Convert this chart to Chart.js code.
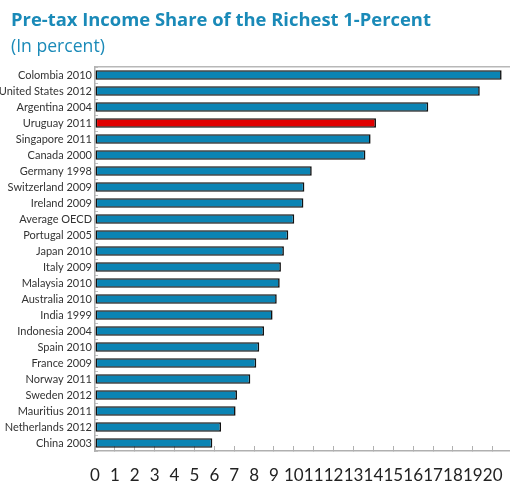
<!DOCTYPE html>
<html>
<head>
<meta charset="utf-8">
<script src="https://cdn.jsdelivr.net/npm/chart.js@4"></script>
<style>
  html, body { margin: 0; padding: 0; background: #fff; }
  #wrap { position: relative; width: 510px; height: 483px; overflow: hidden; }
  #title { position: absolute; left: 11px; top: 6px; font: bold 18.4px "Open Sans", sans-serif; color: #1a8ab8; white-space: nowrap; }
  #subtitle { position: absolute; left: 11px; top: 33px; font: 17.6px "Open Sans", sans-serif; color: #1a8ab8; }
  canvas { position: absolute; left: 0; top: 0; }
</style>
</head>
<body>
<div id="wrap">
  <canvas id="incomeChart" width="510" height="483"></canvas>
  <div id="title">Pre-tax Income Share of the Richest 1-Percent</div>
  <div id="subtitle">(In percent)</div>
</div>
<script>
  const countries = [
    "Colombia 2010", "United States 2012", "Argentina 2004", "Uruguay 2011",
    "Singapore 2011", "Canada 2000", "Germany 1998", "Switzerland 2009",
    "Ireland 2009", "Average OECD", "Portugal 2005", "Japan 2010",
    "Italy 2009", "Malaysia 2010", "Australia 2010", "India 1999",
    "Indonesia 2004", "Spain 2010", "France 2009", "Norway 2011",
    "Sweden 2012", "Mauritius 2011", "Netherlands 2012", "China 2003"
  ];
  const topShare = [
    20.45, 19.35, 16.76, 14.13,
    13.86, 13.6, 10.9, 10.53,
    10.48, 10.02, 9.72, 9.5,
    9.35, 9.29, 9.14, 8.93,
    8.5, 8.26, 8.11, 7.81,
    7.14, 7.07, 6.34, 5.9
  ];
  const xTicks = [0, 1, 2, 3, 4, 5, 6, 7, 8, 9, 10, 11, 12, 13, 14, 15, 16, 17, 18, 19, 20];
  const highlight = "Uruguay 2011";

  const blue = '#0b84b4';
  const red = '#e00000';
  const xMax = 20.87;

  const ctx = document.getElementById('incomeChart').getContext('2d');
  new Chart(ctx, {
    type: 'bar',
    data: {
      labels: countries,
      datasets: [{
        data: topShare,
        backgroundColor: countries.map(c => c === highlight ? red : blue),
        borderColor: '#111',
        borderWidth: 1.6,
        borderSkipped: false,
        barPercentage: 0.6,
        categoryPercentage: 1
      }]
    },
    options: {
      indexAxis: 'y',
      responsive: false,
      animation: false,
      layout: { padding: { top: 67, left: 0, right: 0, bottom: 0 } },
      plugins: {
        legend: { display: false },
        tooltip: { enabled: false }
      },
      scales: {
        x: {
          min: 0,
          max: xMax,
          afterBuildTicks: axis => {
            axis.ticks = xTicks.map(v => ({ value: v }));
          },
          // the plot runs right up to the edge, so no room kept for the last label
          afterFit: axis => {
            axis.height = 32;
            axis.paddingLeft = 0;
            axis.paddingRight = 0;
          },
          ticks: {
            autoSkip: false,
            maxRotation: 0,
            padding: 19,
            color: '#222',
            font: { family: "Lato, sans-serif", size: 17 }
          },
          grid: {
            drawOnChartArea: false,
            tickLength: -5,
            color: '#b0b0b0'
          },
          border: { color: '#b0b0b0', width: 1.5 }
        },
        xTop: {
          position: 'top',
          min: 0,
          max: xMax,
          afterFit: axis => {
            axis.height = 0;
            axis.paddingLeft = 0;
            axis.paddingRight = 0;
          },
          ticks: { display: false },
          grid: { display: false },
          border: { color: '#b8b8b8', width: 1.5 }
        },
        y: {
          afterFit: axis => { axis.width = 95; },
          ticks: {
            autoSkip: false,
            padding: 6,
            color: '#333',
            font: { family: "Lato, sans-serif", size: 11 }
          },
          grid: {
            drawOnChartArea: false,
            tickLength: -3,
            color: '#c0c0c0'
          },
          border: { color: '#b0b0b0', width: 1.5 }
        }
      }
    }
  });
</script>
</body>
</html>
